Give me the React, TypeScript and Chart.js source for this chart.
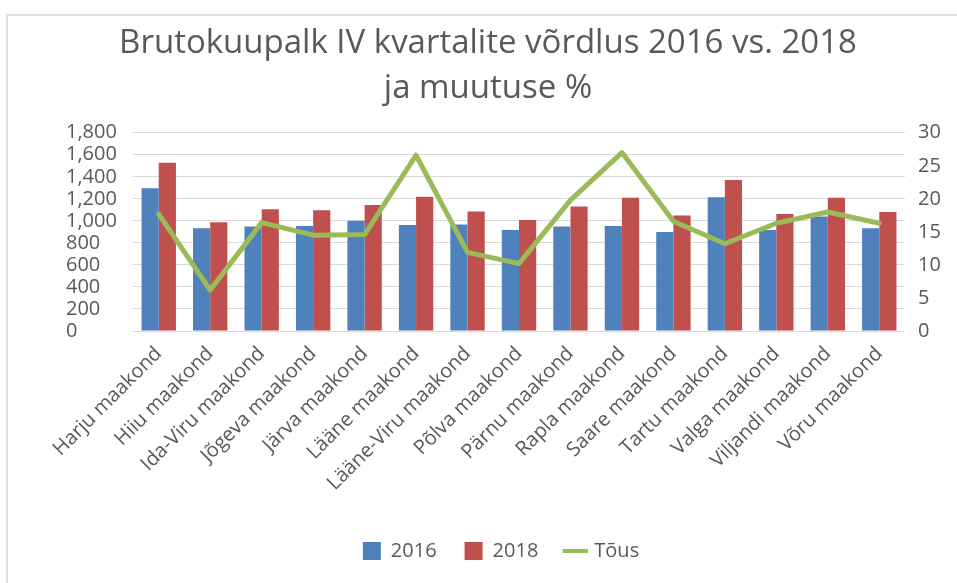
import React, { useEffect, useRef } from "react";
import { Chart, registerables } from "chart.js";

Chart.register(...registerables);

const titleLines = ["Brutokuupalk IV kvartalite võrdlus 2016 vs. 2018", "ja muutuse %"];

const categories = [
  "Harju maakond",
  "Hiiu maakond",
  "Ida-Viru maakond",
  "Jõgeva maakond",
  "Järva maakond",
  "Lääne maakond",
  "Lääne-Viru maakond",
  "Põlva maakond",
  "Pärnu maakond",
  "Rapla maakond",
  "Saare maakond",
  "Tartu maakond",
  "Valga maakond",
  "Viljandi maakond",
  "Võru maakond",
];

const values2016 = [1296, 933, 948, 954, 1000, 963, 966, 917, 948, 954, 900, 1214, 917, 1039, 933];
const values2018 = [1528, 988, 1106, 1097, 1145, 1220, 1084, 1008, 1130, 1211, 1048, 1371, 1063, 1211, 1081];
const growthPct = [17.7, 6.2, 16.4, 14.5, 14.6, 26.6, 11.9, 10.2, 19.8, 27.0, 16.6, 13.2, 16.3, 18.0, 16.3];

const seriesLabels = ["2016", "2018", "Tõus"];

const leftTicks = [0, 200, 400, 600, 800, 1000, 1200, 1400, 1600, 1800];
const rightTicks = [0, 5, 10, 15, 20, 25, 30];

const FONT = "'Open Sans', sans-serif";
const TEXT = "#595959";
const BLUE = "#4F81BD";
const RED = "#C0504D";
const GREEN = "#9BBB59";
const GRID = "#d9d9d9";

// centre the title and legend the way the original (cropped) chart object does
const blockCentering = {
  id: "blockCentering",
  afterLayout(chart: any) {
    const t = chart.titleBlock;
    if (t) {
      t.left = 66;
      t.right = 910;
    }
    const l = chart.legend;
    if (l) {
      l.left = 66;
      l.right = 936;
    }
  },
};

export default function App() {
  const canvasRef = useRef<HTMLCanvasElement | null>(null);

  useEffect(() => {
    const canvas = canvasRef.current;
    if (!canvas) return;
    const chart = new Chart(canvas, {
      type: "bar",
      data: {
        labels: categories,
        datasets: [
          {
            type: "bar",
            label: seriesLabels[0],
            data: values2016,
            backgroundColor: BLUE,
            borderWidth: 0,
            pointStyle: "rect",
            yAxisID: "y",
            order: 2,
            categoryPercentage: 0.668,
            barPercentage: 1,
          } as any,
          {
            type: "bar",
            label: seriesLabels[1],
            data: values2018,
            backgroundColor: RED,
            borderWidth: 0,
            pointStyle: "rect",
            yAxisID: "y",
            order: 2,
            categoryPercentage: 0.668,
            barPercentage: 1,
          } as any,
          {
            type: "line",
            label: seriesLabels[2],
            data: growthPct,
            borderColor: GREEN,
            backgroundColor: GREEN,
            borderWidth: 5,
            borderJoinStyle: "round",
            borderCapStyle: "round",
            pointRadius: 0,
            pointHoverRadius: 0,
            pointStyle: "line",
            pointBorderColor: GREEN,
            pointBorderWidth: 4,
            tension: 0,
            yAxisID: "y1",
            order: 1,
          } as any,
        ],
      },
      plugins: [blockCentering],
      options: {
        responsive: false,
        animation: false,
        events: [],
        layout: { padding: { left: 66, right: 0, top: 0, bottom: 12 } },
        plugins: {
          title: {
            display: true,
            text: titleLines,
            color: TEXT,
            font: { family: FONT, size: 33, weight: "normal", lineHeight: 1.36 },
            padding: { top: 21, bottom: 22 },
          },
          legend: {
            position: "bottom",
            labels: {
              color: TEXT,
              font: { family: FONT, size: 20 },
              usePointStyle: true,
              boxWidth: 18,
              boxHeight: 18,
              padding: 28,
              sort: (a: any, b: any) => a.datasetIndex - b.datasetIndex,
            },
          },
          tooltip: { enabled: false },
        },
        scales: {
          x: {
            grid: { display: false },
            border: { display: false },
            ticks: {
              color: TEXT,
              font: { family: FONT, size: 20 },
              autoSkip: false,
              minRotation: 45,
              maxRotation: 45,
              padding: 3,
            },
            afterFit: (s: any) => {
              s.height = 182;
            },
          },
          y: {
            position: "left",
            min: 0,
            max: leftTicks[leftTicks.length - 1],
            afterBuildTicks: (s: any) => {
              s.ticks = leftTicks.map((v) => ({ value: v }));
            },
            ticks: {
              autoSkip: false,
              crossAlign: "far",
              color: TEXT,
              font: { family: FONT, size: 20, lineHeight: 1 },
              callback: (v: any) => Number(v).toLocaleString("en-US"),
            },
            grid: { color: GRID, lineWidth: 1, drawTicks: false },
            border: { display: false },
            afterFit: (s: any) => {
              s.width = 67;
            },
          },
          y1: {
            position: "right",
            min: 0,
            max: rightTicks[rightTicks.length - 1],
            afterBuildTicks: (s: any) => {
              s.ticks = rightTicks.map((v) => ({ value: v }));
            },
            ticks: {
              autoSkip: false,
              padding: 13,
              color: TEXT,
              font: { family: FONT, size: 20, lineHeight: 1 },
            },
            grid: { display: false, drawTicks: false },
            border: { display: false },
            afterFit: (s: any) => {
              s.width = 52;
            },
          },
        },
      } as any,
    });
    return () => chart.destroy();
  }, []);

  return (
    <div
      style={{
        position: "fixed",
        left: 0,
        top: 0,
        width: 957,
        height: 583,
        overflow: "hidden",
        background: "#ffffff",
      }}
    >
      <div
        style={{
          position: "absolute",
          left: 6,
          top: 14,
          width: 980,
          height: 600,
          borderTop: "2px solid #dedede",
          borderLeft: "2px solid #dedede",
        }}
      />
      <canvas
        ref={canvasRef}
        width={957}
        height={583}
        style={{ position: "absolute", left: 0, top: 0, width: 957, height: 583 }}
      />
    </div>
  );
}
